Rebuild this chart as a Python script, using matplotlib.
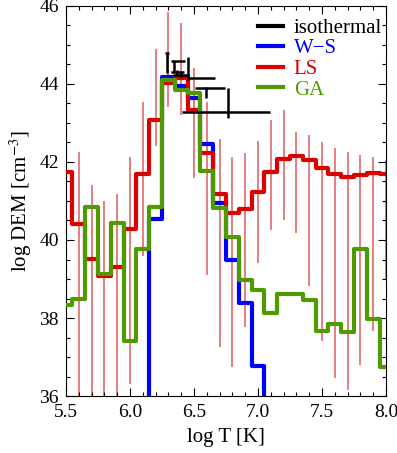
import numpy as np
import matplotlib
matplotlib.use('Agg')
import matplotlib.pyplot as plt
from matplotlib.lines import Line2D

plt.rcParams['font.family'] = ['Liberation Serif', 'DejaVu Serif']
plt.rcParams['mathtext.fontset'] = 'stix'

# bin centres in log T
logT = [5.5, 5.6, 5.7, 5.8, 5.9, 6.0, 6.1, 6.2, 6.3, 6.4, 6.5, 6.6, 6.7,
        6.8, 6.9, 7.0, 7.1, 7.2, 7.3, 7.4, 7.5, 7.6, 7.7, 7.8, 7.9, 8.0]

# 30 = off the bottom of the plot
dem_ws = [30, 30, 30, 30, 30, 30, 30, 40.55, 44.17, 43.96, 43.65, 42.46, 40.94,
          39.49, 38.39, 36.77, 30, 30, 30, 30, 30, 30, 30, 30, 30, 30]
dem_ls = [41.75, 40.41, 39.51, 39.08, 39.30, 40.27, 41.70, 43.08, 44.03, 44.15,
          43.33, 42.22, 41.18, 40.70, 40.79, 41.24, 41.75, 42.07, 42.16, 42.05,
          41.84, 41.69, 41.62, 41.67, 41.73, 41.69]
ls_hi = [43.5, 42.26, 41.41, 41.0, 41.18, 42.12, 43.55, 44.9, 45.85, 45.56,
         44.4, 43.55, 42.6, 42.14, 42.22, 42.55, 43.08, 43.33, 42.78, 42.69,
         42.52, 42.35, 42.26, 42.18, 42.14, 42.05]
ls_lo = [30, 30, 30, 30, 30, 36.3, 39.6, 42.4, 43.4, 43.2,
         41.6, 39.1, 37.26, 36.75, 37.78, 39.42, 40.26, 40.51, 40.17, 38.82,
         37.4, 36.45, 36.15, 36.79, 37.67, 39.0]
dem_ga = [38.33, 38.50, 40.85, 39.13, 40.44, 37.42, 39.76, 40.85, 44.10, 43.85,
          43.77, 41.78, 40.83, 40.07, 38.98, 38.71, 38.13, 38.62, 38.62, 38.46,
          37.67, 37.85, 37.65, 39.76, 37.97, 36.74]

# isothermal fits: centre and error extents
iso_T = [6.29, 6.344, 6.37, 6.40, 6.455, 6.594, 6.768]
iso_em = [44.79, 44.59, 44.30, 44.24, 44.15, 43.90, 43.29]
iso_T_lo = [0.015, 0.026, 0.05, 0.06, 0.0, 0.086, 0.364]
iso_T_hi = [0.015, 0.086, 0.05, 0.06, 0.21, 0.148, 0.326]
iso_em_lo = [0.52, 0.27, 0.06, 0.06, 0.05, 0.27, 0.17]
iso_em_hi = [0.0, 0.0, 0.06, 0.06, 0.55, 0.03, 0.60]

fig = plt.figure(figsize=(3.97, 4.53), dpi=100)
ax = fig.add_axes([0.1662, 0.1258, 0.806, 0.861])

blue = '#0000ff'
red = '#dd0000'
green = '#4f9a00'

ax.vlines(logT, ls_lo, ls_hi, color='#e05a5a', lw=1.1, zorder=1)
ax.step(logT, dem_ws, where='mid', color=blue, lw=3.0, zorder=2)
ax.step(logT, dem_ls, where='mid', color=red, lw=3.0, zorder=3)
ax.step(logT, dem_ga, where='mid', color=green, lw=3.0, zorder=4)
ax.errorbar(iso_T, iso_em, xerr=[iso_T_lo, iso_T_hi], yerr=[iso_em_lo, iso_em_hi],
            fmt='none', ecolor='black', elinewidth=1.8, capsize=0, zorder=5)

ax.set_xlim(5.5, 8.0)
ax.set_ylim(36, 46)
ax.set_xticks([5.5, 6.0, 6.5, 7.0, 7.5, 8.0])
ax.set_xticklabels(['5.5', '6.0', '6.5', '7.0', '7.5', '8.0'])
ax.set_yticks([36, 38, 40, 42, 44, 46])
ax.set_xticks(np.arange(5.5, 8.0001, 0.1), minor=True)
ax.set_yticks(np.arange(36, 46.001, 0.5), minor=True)
ax.tick_params(which='both', direction='in', top=True, right=True, labelsize=14)
ax.tick_params(axis='x', which='major', pad=6)
ax.tick_params(axis='y', which='major', pad=5)
ax.tick_params(which='major', length=5.5, width=0.8)
ax.tick_params(which='minor', length=3, width=0.8)
ax.set_xlabel('log T [K]', fontsize=15, labelpad=5)
ax.set_ylabel('log DEM [cm$^{-3}$]', fontsize=15, labelpad=4)

handles = [Line2D([], [], color='black', lw=3.0),
           Line2D([], [], color=blue, lw=3.0),
           Line2D([], [], color=red, lw=3.0),
           Line2D([], [], color=green, lw=3.0)]
leg = ax.legend(handles, ['isothermal', 'W\u2212S', 'LS', 'GA'], loc='upper left',
                bbox_to_anchor=(0.575, 0.99), frameon=False, fontsize=15,
                handlelength=1.2, handletextpad=0.5, labelspacing=0.05,
                borderaxespad=0)
for txt, c in zip(leg.get_texts(), ['black', blue, red, green]):
    txt.set_color(c)

fig.savefig('out.png', dpi=100)
